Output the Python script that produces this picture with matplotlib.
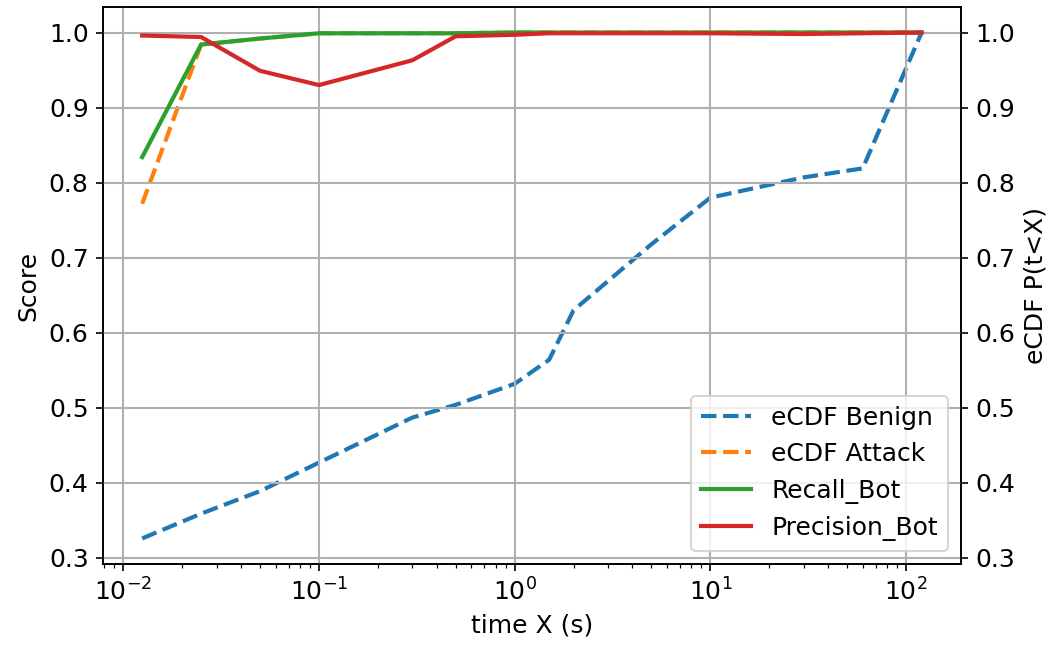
import matplotlib
matplotlib.use("Agg")
import matplotlib.pyplot as plt

# Time thresholds (s)
t_values = [0.0125, 0.025, 0.05, 0.1, 0.3, 0.5, 1, 1.5, 2, 5, 10, 30, 60, 120]

# Empirical CDFs of response time
ecdf_benign = [0.326, 0.359, 0.389, 0.427, 0.487, 0.504, 0.532, 0.564, 0.630, 0.718, 0.780, 0.807, 0.819, 1.0]
ecdf_attack = [0.772, 0.984, 0.992, 0.999, 0.999, 0.999, 1.0, 1.0, 1.0, 1.0, 1.0, 1.0, 1.0, 1.0]

# Detection scores
recall_bot = [0.834, 0.984, 0.992, 0.999, 0.999, 0.999, 1.0, 1.0, 1.0, 1.0, 1.0, 1.0, 1.0, 1.0]
precision_bot = [0.996, 0.994, 0.949, 0.930, 0.963, 0.995, 0.997, 0.999, 0.999, 0.999, 0.999, 0.998, 0.999, 1.0]

fs = 12

fig = plt.figure(figsize=(1059 / 150, 645 / 150), dpi=150)
ax = fig.add_axes([0.0975, 0.126, 0.8095, 0.8628])
ax2 = ax.twinx()

l1, = ax2.plot(t_values, ecdf_benign, "--", color="tab:blue", lw=2, label="eCDF Benign")
l2, = ax2.plot(t_values, ecdf_attack, "--", color="tab:orange", lw=2, label="eCDF Attack")
l3, = ax.plot(t_values, recall_bot, "-", color="tab:green", lw=2, label="Recall_Bot")
l4, = ax.plot(t_values, precision_bot, "-", color="tab:red", lw=2, label="Precision_Bot")

ax.set_zorder(ax2.get_zorder() + 1)
ax.patch.set_visible(False)

ax.set_xscale("log")
ylim = (0.2923, 1.0337)
ax.set_ylim(*ylim)
ax2.set_ylim(*ylim)
ax.set_xlim(10 ** -2.102, 10 ** 2.278)

ax.grid(True, which="major", color="#b0b0b0", lw=1)
ax.set_xlabel("time X (s)", fontsize=fs)
ax.set_ylabel("Score", fontsize=fs)
ax2.set_ylabel("eCDF P(t<X)", fontsize=fs)
ax.tick_params(labelsize=fs)
ax2.tick_params(labelsize=fs)

ax.legend(handles=[l1, l2, l3, l4], loc="lower right", fontsize=fs)

fig.savefig("out.png", dpi=150)
